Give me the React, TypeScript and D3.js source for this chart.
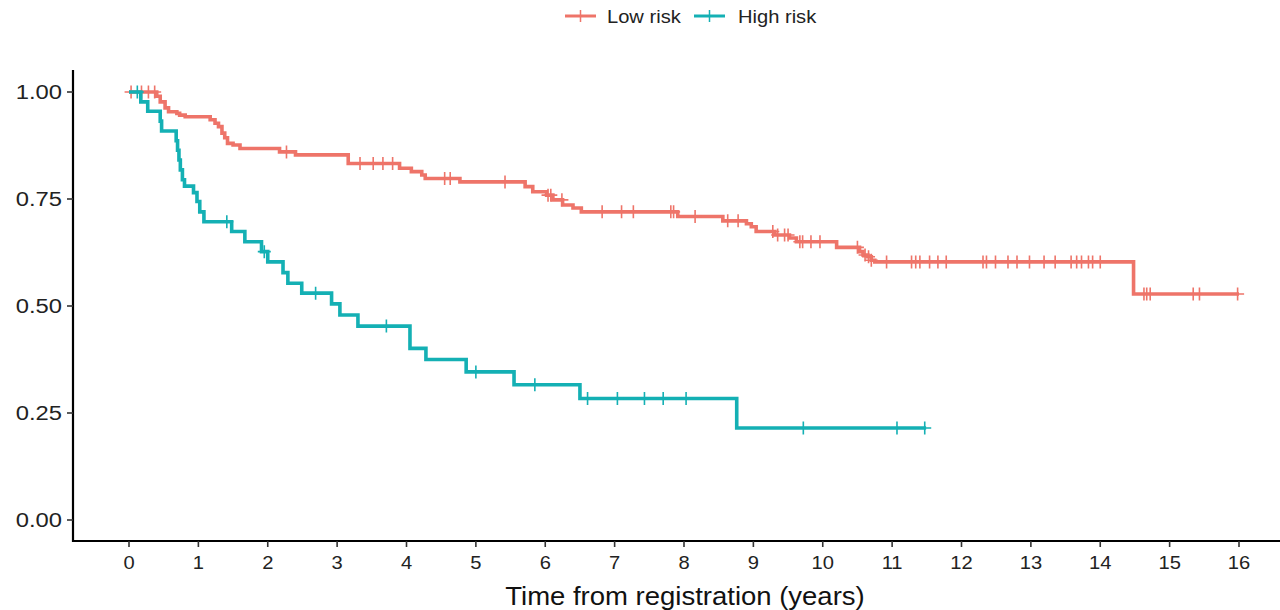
import React from "react";
import * as d3 from "d3";

// ---- Data ----
const seriesNames = ["Low risk", "High risk"];
const seriesColors = ["#EE7469", "#14B0B4"];

// Low risk: step times and survival after each step
const lowTimes = [0, 0.40, 0.45, 0.52, 0.57, 0.69, 0.73, 0.81, 1.17, 1.24, 1.29, 1.34, 1.38, 1.42, 1.50, 1.60, 2.17, 2.40, 3.16, 3.90, 4.07, 4.22, 4.27, 4.77, 5.71, 5.82, 6.02, 6.11, 6.25, 6.40, 6.52, 7.91, 8.56, 8.90, 8.97, 9.04, 9.31, 9.52, 9.62, 10.20, 10.53, 10.58, 10.65, 10.70, 10.75, 14.48, 16.0];
const lowSurv = [1, 0.990, 0.977, 0.963, 0.954, 0.950, 0.946, 0.942, 0.935, 0.927, 0.919, 0.904, 0.893, 0.880, 0.876, 0.868, 0.860, 0.853, 0.833, 0.822, 0.814, 0.806, 0.798, 0.790, 0.779, 0.767, 0.759, 0.748, 0.736, 0.729, 0.720, 0.709, 0.699, 0.692, 0.685, 0.674, 0.666, 0.659, 0.650, 0.637, 0.627, 0.619, 0.615, 0.607, 0.603, 0.528, 0.528];
const lowCensor = [0.03, 0.18, 0.28, 0.37, 2.27, 3.33, 3.52, 3.66, 3.80, 4.55, 4.63, 5.42, 6.04, 6.08, 6.24, 6.82, 7.10, 7.27, 7.81, 7.85, 8.16, 8.63, 8.78, 9.28, 9.35, 9.45, 9.50, 9.67, 9.71, 9.83, 9.96, 10.50, 10.61, 10.66, 10.70, 10.92, 11.28, 11.34, 11.40, 11.54, 11.66, 11.78, 12.31, 12.36, 12.49, 12.67, 12.80, 12.98, 13.19, 13.35, 13.58, 13.66, 13.73, 13.83, 13.89, 14.00, 14.63, 14.67, 14.72, 15.34, 15.43, 15.98];

// High risk
const highTimes = [0, 0.17, 0.27, 0.45, 0.47, 0.68, 0.70, 0.72, 0.74, 0.77, 0.80, 0.93, 0.98, 1.02, 1.08, 1.48, 1.67, 1.91, 2.00, 2.22, 2.29, 2.49, 2.92, 3.04, 3.30, 4.05, 4.28, 4.86, 5.55, 6.50, 8.76, 11.49];
const highSurv = [1, 0.977, 0.955, 0.932, 0.909, 0.886, 0.864, 0.841, 0.818, 0.795, 0.780, 0.765, 0.744, 0.720, 0.697, 0.674, 0.650, 0.627, 0.603, 0.578, 0.553, 0.530, 0.505, 0.479, 0.453, 0.401, 0.375, 0.346, 0.316, 0.284, 0.215, 0.215];
const highCensor = [0.12, 1.41, 1.95, 2.69, 3.71, 5.00, 5.85, 6.61, 7.04, 7.43, 7.70, 8.03, 9.72, 11.07, 11.47];

const xTicks = d3.range(0, 17);
const yTicks = [0, 0.25, 0.5, 0.75, 1.0];
const xTitle = "Time from registration (years)";

function survAt(times: number[], surv: number[], t: number) {
  let s = surv[0];
  for (let i = 0; i < times.length; i++) if (times[i] <= t) s = surv[i];
  return s;
}

export default function App() {
  const W = 1280, H = 610;
  const x = d3.scaleLinear().domain([-0.8, 16.8]).range([73.5, 1294.5]);
  const y = d3.scaleLinear().domain([-0.05, 1.05]).range([541.4, 70.6]);
  const axisX0 = 73, axisY0 = 541;
  const line = d3.line<[number, number]>().x(d => x(d[0])).y(d => y(d[1])).curve(d3.curveStepAfter);

  const series = [
    { times: lowTimes, surv: lowSurv, cens: lowCensor },
    { times: highTimes, surv: highSurv, cens: highCensor },
  ];
  const font = "'Liberation Sans', Arial, Helvetica, sans-serif";

  const plus = (cx: number, cy: number, h: number) => `M${cx - h},${cy}H${cx + h}M${cx},${cy - h}V${cy + h}`;

  return (
    <svg width={W} height={H} style={{ position: "absolute", left: 0, top: 0, background: "#fff" }} fontFamily={font}>
      {/* legend */}
      {seriesNames.map((name, i) => {
        const lx = [565, 694][i];
        const tx = [607, 738][i];
        return (
          <g key={name}>
            <line x1={lx} x2={lx + 31} y1={16} y2={16} stroke={seriesColors[i]} strokeWidth={3} />
            <path d={plus(lx + 15.5, 16, 6)} stroke={seriesColors[i]} strokeWidth={1.5} fill="none" />
            <text transform={`translate(${tx},22.5) scale(1.15,1)`} fontSize={17.5} fill="#222">{name}</text>
          </g>
        );
      })}

      {/* curves */}
      {series.map((s, i) => (
        <g key={i}>
          <path d={line(s.times.map((t, j) => [t, s.surv[j]] as [number, number])) || ""} fill="none" stroke={seriesColors[i]} strokeWidth={3.6} />
          {s.cens.map((c, j) => (
            <path key={j} d={plus(x(c), y(survAt(s.times, s.surv, c)), 6.5)} stroke={seriesColors[i]} strokeWidth={1.6} fill="none" />
          ))}
        </g>
      ))}

      {/* axes */}
      <line x1={axisX0} x2={axisX0} y1={70} y2={axisY0 + 1} stroke="#000" strokeWidth={2.2} />
      <line x1={axisX0 - 1} x2={W} y1={axisY0} y2={axisY0} stroke="#000" strokeWidth={2.2} />
      {yTicks.map(v => (
        <g key={v}>
          <line x1={axisX0 - 6} x2={axisX0} y1={y(v)} y2={y(v)} stroke="#333" strokeWidth={1.6} />
          <text transform={`translate(62,${y(v) + 7}) scale(1.22,1)`} textAnchor="end" fontSize={19.5} fill="#222">{d3.format(".2f")(v)}</text>
        </g>
      ))}
      {xTicks.map(v => (
        <g key={v}>
          <line x1={x(v)} x2={x(v)} y1={axisY0} y2={axisY0 + 6} stroke="#333" strokeWidth={1.6} />
          <text transform={`translate(${x(v)},569) scale(1.12,1)`} textAnchor="middle" fontSize={18} fill="#222">{v}</text>
        </g>
      ))}
      <text transform={`translate(685,605) scale(1.1,1)`} textAnchor="middle" fontSize={25} fill="#111">{xTitle}</text>
    </svg>
  );
}
